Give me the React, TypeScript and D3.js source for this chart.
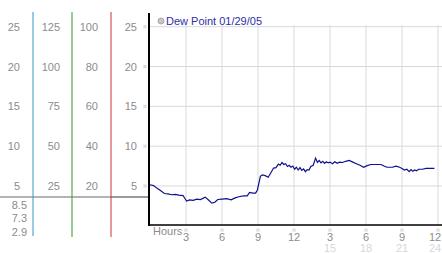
import React from "react";
import * as d3 from "d3";

const hours = [0,0.3,0.6,0.9,1.2,1.5,1.8,2.1,2.4,2.75,3.05,3.3,3.6,3.9,4.2,4.6,4.9,5.15,5.4,5.65,6.0,6.4,6.75,7.1,7.4,7.8,8.1,8.3,8.55,8.8,8.95,9.2,9.35,9.6,9.85,10.05,10.3,10.5,10.7,10.85,11.0,11.15,11.3,11.45,11.6,11.75,11.9,12.05,12.2,12.35,12.5,12.65,12.8,12.95,13.1,13.25,13.4,13.6,13.8,13.95,14.1,14.25,14.4,14.55,14.7,14.85,15.0,15.2,15.4,15.6,15.8,16.05,16.3,16.6,16.9,17.2,17.5,17.8,18.1,18.4,18.8,19.25,19.5,19.75,20.2,20.5,20.8,21.0,21.2,21.4,21.6,21.75,21.9,22.05,22.2,22.4,22.7,23.0,23.3,23.7];
const dewPoint = [5.15,5.05,4.7,4.4,4.05,4.0,3.9,3.95,3.85,3.8,3.1,3.25,3.2,3.35,3.3,3.6,3.2,2.85,2.95,3.3,3.35,3.4,3.25,3.5,3.65,3.75,3.75,4.2,4.1,4.1,4.5,6.2,6.4,6.3,6.1,6.6,7.25,7.3,7.75,7.6,7.95,7.7,7.8,7.45,7.6,7.35,7.5,7.1,7.35,7.0,7.3,6.95,7.15,6.8,7.05,7.0,7.45,7.6,8.5,7.95,8.2,7.9,8.1,7.85,8.05,7.9,8.0,7.8,8.05,7.85,8.0,7.95,8.1,8.2,8.0,7.8,7.6,7.35,7.55,7.7,7.7,7.7,7.5,7.35,7.35,7.5,7.35,7.2,7.0,7.1,6.8,7.05,6.85,7.0,6.9,7.1,7.1,7.2,7.2,7.2];

const yTicks = [25, 20, 15, 10, 5];
const col1Labels = ["25", "20", "15", "10", "5"];
const col2Labels = ["125", "100", "75", "50", "25"];
const col3Labels = ["100", "80", "60", "40", "20"];
const col4Labels = ["25", "20", "15", "10", "5"];
const extraLabels = ["8.5", "7.3", "2.9"];
const xTicks = [3, 6, 9, 12, 15, 18, 21, 24];
const xLabels1 = ["3", "6", "9", "12", "3", "6", "9", "12"];
const xLabels2 = ["", "", "", "", "15", "18", "21", "24"];
const legendLabel = "Dew Point 01/29/05";

const FONT = "'Liberation Sans', Arial, sans-serif";

function Mark({ x, y }: { x: number; y: number }) {
  return (
    <g fill="#b8b8b8">
      <rect x={x - 1.5} y={y - 1.5} width={1} height={1} />
      <rect x={x + 0.5} y={y - 1.5} width={1} height={1} />
      <rect x={x - 0.5} y={y - 0.5} width={1} height={1} />
      <rect x={x - 1.5} y={y + 0.5} width={1} height={1} />
      <rect x={x + 0.5} y={y + 0.5} width={1} height={1} />
    </g>
  );
}

export default function App() {
  const W = 442, H = 253;
  const x = d3.scaleLinear().domain([0, 24]).range([150, 438]);
  const y = d3.scaleLinear().domain([0, 25]).range([225.8, 26.7]);
  const line = d3
    .line<number>()
    .x((_, i) => x(hours[i]))
    .y((d) => y(d));
  const axisX = 149;
  const axisY = 225;
  const gridTop = 25;
  const labelX = (t: number) => Math.min(x(t), 435);

  return (
    <svg
      width={W}
      height={H}
      style={{ position: "absolute", left: 0, top: 0, background: "#fff" }}
      fontFamily={FONT}
    >
      <rect width={W} height={H} fill="#fff" />
      {/* grid */}
      {yTicks.map((t) => (
        <line key={"gy" + t} x1={axisX} x2={442} y1={y(t)} y2={y(t)} stroke="#d9d9d9" strokeWidth={1} />
      ))}
      {xTicks.map((t) => (
        <line key={"gx" + t} x1={x(t)} x2={x(t)} y1={gridTop} y2={axisY} stroke="#d9d9d9" strokeWidth={1} />
      ))}
      {/* left scale columns */}
      <line x1={0} x2={111} y1={197} y2={197} stroke="#b4b4b4" strokeWidth={2} />
      <line x1={111} x2={axisX} y1={197} y2={197} stroke="#9a9a9a" strokeWidth={2} />
      <line x1={33} x2={33} y1={12} y2={236} stroke="#3399cc" strokeWidth={1} />
      <line x1={72} x2={72} y1={12} y2={237} stroke="#339933" strokeWidth={1} />
      <line x1={111} x2={111} y1={12} y2={237} stroke="#cc3333" strokeWidth={1} />
      <g fontSize={11} fill="#8c8c8c">
        {yTicks.map((t, i) => (
          <g key={"c" + t}>
            <text x={20} y={y(t) + 4} textAnchor="end">{col1Labels[i]}</text>
            <text x={60} y={y(t) + 4} textAnchor="end">{col2Labels[i]}</text>
            <text x={98} y={y(t) + 4} textAnchor="end">{col3Labels[i]}</text>
            <text x={137} y={y(t) + 4} textAnchor="end">{col4Labels[i]}</text>
          </g>
        ))}
        {extraLabels.map((l, i) => (
          <text key={"e" + l} x={27} y={209 + i * 13.3} textAnchor="end">{l}</text>
        ))}
      </g>
      {yTicks.map((t) => (
        <Mark key={"m" + t} x={145} y={y(t)} />
      ))}
      {/* axes */}
      <line x1={axisX} x2={axisX} y1={13} y2={axisY + 1} stroke="#000" strokeWidth={2} />
      <line x1={axisX} x2={442} y1={axisY} y2={axisY} stroke="#000" strokeWidth={1.5} />
      {/* x labels */}
      <text x={153} y={235} fontSize={11} fill="#8c8c8c">Hours</text>
      {xTicks.map((t, i) => (
        <g key={"xl" + t}>
          <Mark x={x(t)} y={230} />
          <text x={labelX(t)} y={241} fontSize={11} fill="#8c8c8c" textAnchor="middle">{xLabels1[i]}</text>
          {xLabels2[i] && (
            <text x={labelX(t)} y={252} fontSize={11} fill="#d8d8d8" textAnchor="middle">{xLabels2[i]}</text>
          )}
        </g>
      ))}
      {/* data line */}
      <path d={line(dewPoint) || ""} fill="none" stroke="#10108a" strokeWidth={1.2} />
      {/* legend */}
      <circle cx={161} cy={21} r={3} fill="#c8c8c8" stroke="#999" strokeWidth={0.8} />
      <text x={166} y={25} fontSize={11} fill="#2e2ea8">{legendLabel}</text>
    </svg>
  );
}
